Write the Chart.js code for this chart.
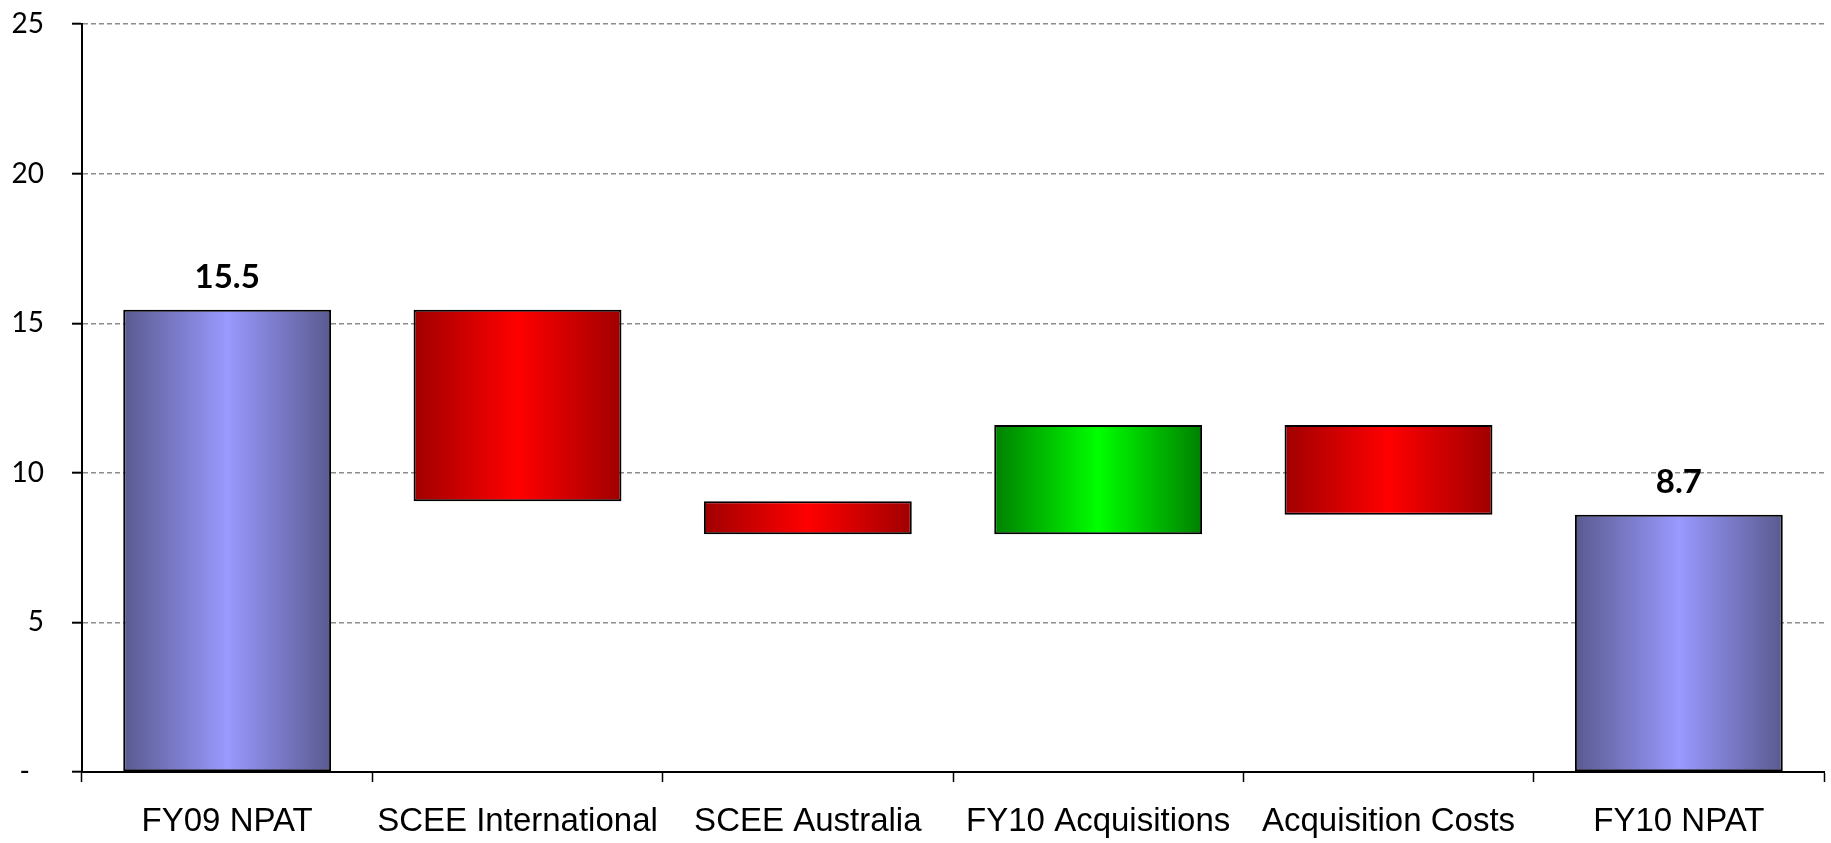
<!DOCTYPE html>
<html>
<head>
<meta charset="utf-8">
<script src="https://cdn.jsdelivr.net/npm/chart.js@4/dist/chart.umd.min.js"></script>
<style>
html,body{margin:0;padding:0;background:#fff;}
#wrap{width:1831px;height:843px;position:relative;}
</style>
</head>
<body>
<div id="wrap"><canvas id="c" width="1831" height="843"></canvas></div>
<script>
// ---- data ----
const categories = ['FY09 NPAT', 'SCEE International', 'SCEE Australia', 'FY10 Acquisitions', 'Acquisition Costs', 'FY10 NPAT'];
const startValue = 15.45;
const changes = [-6.4, -1.1, 3.65, -3.0];
const valueLabels = ['15.5', '', '', '', '', '8.7'];
const barKinds = ['total', 'down', 'down', 'up', 'down', 'total'];
const yTicks = [0, 5, 10, 15, 20, 25];

// build floating ranges
const ranges = [[0, startValue]];
let run = startValue;
changes.forEach(d => {
  const next = +(run + d).toFixed(4);
  ranges.push([Math.min(run, next), Math.max(run, next)]);
  run = next;
});
ranges.push([0, run]);

const palette = {
  total: ['#5a5a90', '#9999ff'],
  down: ['#a00000', '#ff0000'],
  up: ['#008000', '#00ff00']
};

const BAR_PCT = 0.716;

function barFill(ctx) {
  const chart = ctx.chart;
  const xs = chart.scales.x;
  const kind = barKinds[ctx.dataIndex];
  const [edge, mid] = palette[kind];
  if (!xs || !chart.chartArea) return mid;
  const cx = xs.getPixelForValue(ctx.dataIndex);
  const w = (xs.width / categories.length) * BAR_PCT;
  const g = chart.ctx.createLinearGradient(cx - w / 2, 0, cx + w / 2, 0);
  g.addColorStop(0, edge);
  g.addColorStop(0.5, mid);
  g.addColorStop(1, edge);
  return g;
}

const valueLabelPlugin = {
  id: 'valueLabels',
  afterDatasetsDraw(chart) {
    const meta = chart.getDatasetMeta(0);
    const c = chart.ctx;
    c.save();
    c.font = 'bold 33px Lato';
    c.fillStyle = '#000';
    c.textAlign = 'center';
    c.textBaseline = 'alphabetic';
    meta.data.forEach((el, i) => {
      const t = valueLabels[i];
      if (!t) return;
      c.fillText(t, el.x, el.y - 22);
    });
    c.restore();
  }
};

new Chart(document.getElementById('c'), {
  type: 'bar',
  data: {
    labels: categories,
    datasets: [{
      data: ranges,
      backgroundColor: barFill,
      borderColor: '#000',
      borderWidth: 2,
      borderSkipped: false,
      barPercentage: BAR_PCT,
      categoryPercentage: 1
    }]
  },
  options: {
    responsive: false,
    animation: false,
    devicePixelRatio: 1,
    layout: { autoPadding: false, padding: { top: 24, right: 7, left: 0, bottom: 0 } },
    plugins: { legend: { display: false }, tooltip: { enabled: false } },
    scales: {
      x: {
        offset: true,
        grid: {
          display: true,
          offset: true,
          drawOnChartArea: false,
          drawTicks: true,
          tickLength: 10,
          tickColor: '#000',
          tickWidth: 1.5
        },
        border: { display: true, color: '#000', width: 2 },
        ticks: {
          color: '#000',
          font: { family: 'Liberation Sans', size: 33 },
          padding: 20,
          maxRotation: 0,
          autoSkip: false
        },
        afterFit(s) { s.height = 71; s.paddingLeft = 0; s.paddingRight = 0; }
      },
      y: {
        min: 0,
        max: 25,
        afterBuildTicks(s) { s.ticks = yTicks.map(v => ({ value: v })); },
        grid: {
          color: (ctx) => (ctx.tick && ctx.tick.value === 0) ? 'rgba(0,0,0,0)' : '#8c8c8c',
          lineWidth: 1.4,
          drawTicks: true,
          tickLength: 10,
          tickColor: '#000',
          tickWidth: 2
        },
        border: { display: true, color: '#000', width: 2, dash: [5, 3] },
        ticks: {
          color: '#000',
          font: { family: 'Lato', size: 28 },
          padding: 28,
          callback: (v) => v === 0 ? '-\u2002' : String(v)
        },
        afterFit(s) { s.width = 82; s.paddingTop = 0; s.paddingBottom = 0; }
      }
    }
  },
  plugins: [valueLabelPlugin]
});
</script>
</body>
</html>
